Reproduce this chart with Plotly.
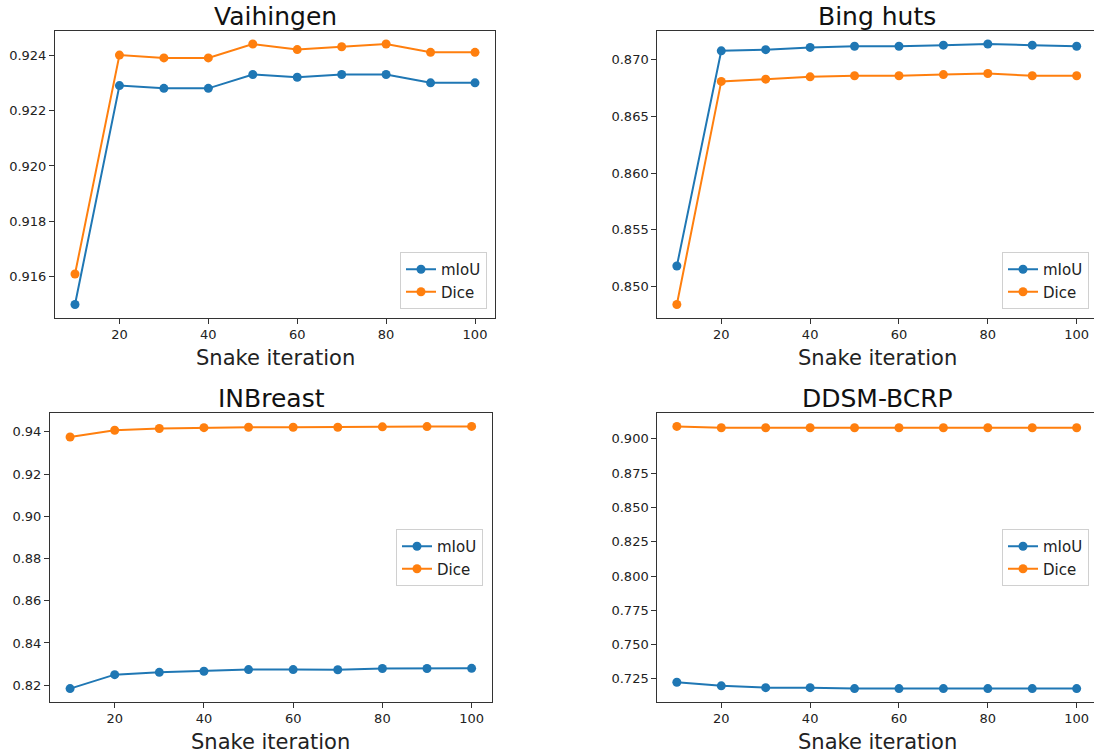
import plotly.graph_objects as go

iterations = [10, 20, 30, 40, 50, 60, 70, 80, 90, 100]
x_tick_vals = [20, 40, 60, 80, 100]
series_names = ["mIoU", "Dice"]

vaihingen_miou = [0.9150, 0.9229, 0.9228, 0.9228, 0.9233, 0.9232, 0.9233, 0.9233, 0.9230, 0.9230]
vaihingen_dice = [0.9161, 0.9240, 0.9239, 0.9239, 0.9244, 0.9242, 0.9243, 0.9244, 0.9241, 0.9241]

bing_miou = [0.8518, 0.8708, 0.8709, 0.8711, 0.8712, 0.8712, 0.8713, 0.8714, 0.8713, 0.8712]
bing_dice = [0.8484, 0.8681, 0.8683, 0.8685, 0.8686, 0.8686, 0.8687, 0.8688, 0.8686, 0.8686]

inbreast_miou = [0.8184, 0.8250, 0.8261, 0.8266, 0.8274, 0.8274, 0.8273, 0.8279, 0.8279, 0.8280]
inbreast_dice = [0.9376, 0.9408, 0.9416, 0.9420, 0.9422, 0.9422, 0.9422, 0.9424, 0.9425, 0.9426]

ddsm_miou = [0.7225, 0.7199, 0.7186, 0.7186, 0.7179, 0.7179, 0.7179, 0.7179, 0.7179, 0.7179]
ddsm_dice = [0.9091, 0.9081, 0.9081, 0.9081, 0.9081, 0.9081, 0.9081, 0.9081, 0.9081, 0.9081]

titles = ["Vaihingen", "Bing huts", "INBreast", "DDSM-BCRP"]
panels = [
    (vaihingen_miou, vaihingen_dice),
    (bing_miou, bing_dice),
    (inbreast_miou, inbreast_dice),
    (ddsm_miou, ddsm_dice),
]

W, H = 1094, 753
FONT = "DejaVu Sans"
BLUE = "#1f77b4"
ORANGE = "#ff7f0e"
SPINE = "#333333"

# axes boxes in pixels: left, right, top, bottom
boxes = [
    (55, 495, 31, 317.5),
    (657.3, 1094, 31, 317.5),
    (50, 491.7, 413.3, 701.7),
    (657.3, 1094, 413.3, 701.7),
]
x_ranges = [[5.5, 104.5], [5.6, 103.9], [5.5, 104.5], [5.6, 103.9]]
y_dticks = [0.002, 0.005, 0.02, 0.025]
y_formats = [".3f", ".3f", ".2f", ".3f"]
title_centers = [275, 877, 271, 877]
legend_pos = [
    (487, 309, "bottom"),
    (1089, 309, "bottom"),
    (483, 557.5, "middle"),
    (1089, 557.5, "middle"),
]

fig = go.Figure()
annotations = []
layout = {}

for i, ((miou, dice), title) in enumerate(zip(panels, titles)):
    n = i + 1
    xa = "x" if n == 1 else f"x{n}"
    ya = "y" if n == 1 else f"y{n}"
    lg = "legend" if n == 1 else f"legend{n}"
    for name, vals, color in zip(series_names, (miou, dice), (BLUE, ORANGE)):
        fig.add_trace(go.Scatter(
            x=iterations, y=vals, name=name, mode="lines+markers",
            line=dict(color=color, width=2),
            marker=dict(color=color, size=9),
            xaxis=xa, yaxis=ya, legend=lg,
        ))
    l, r, t, b = boxes[i]
    lo = min(min(miou), min(dice))
    hi = max(max(miou), max(dice))
    span = hi - lo
    axis_common = dict(
        showline=True, linecolor=SPINE, linewidth=1, mirror=True,
        ticks="outside", ticklen=5, tickwidth=1, tickcolor=SPINE,
        showgrid=False, zeroline=False,
        tickfont=dict(family=FONT, size=13, color="#222222"),
    )
    layout["xaxis" if n == 1 else f"xaxis{n}"] = dict(
        domain=[l / W, r / W], range=x_ranges[i], anchor=ya,
        tickmode="array", tickvals=x_tick_vals, **axis_common,
    )
    layout["yaxis" if n == 1 else f"yaxis{n}"] = dict(
        domain=[1 - b / H, 1 - t / H], range=[lo - 0.05 * span, hi + 0.05 * span],
        anchor=xa, dtick=y_dticks[i], tickformat=y_formats[i], **axis_common,
    )
    lx, ly, anc = legend_pos[i]
    layout[lg] = dict(
        x=lx / W, y=1 - ly / H, xanchor="right", yanchor=anc,
        bgcolor="rgba(255,255,255,0.85)", bordercolor="#d0d0d0", borderwidth=1,
        font=dict(family=FONT, size=15, color="#222222"),
    )
    annotations.append(dict(
        text=title, x=title_centers[i] / W, y=1 - (t - 6) / H,
        xref="paper", yref="paper", xanchor="center", yanchor="bottom",
        showarrow=False, font=dict(family=FONT, size=25, color="#111111"),
        yshift=-8,
    ))
    annotations.append(dict(
        text="Snake iteration", x=((l + r) / 2 if n in (1, 3) else title_centers[i]) / W,
        y=1 - (b + 40) / H,
        xref="paper", yref="paper", xanchor="center", yanchor="middle",
        showarrow=False, font=dict(family=FONT, size=21, color="#222222"),
    ))

fig.update_layout(
    width=W, height=H, margin=dict(l=0, r=0, t=0, b=0),
    paper_bgcolor="white", plot_bgcolor="white",
    annotations=annotations, showlegend=True,
    **layout,
)

fig.write_html("out.html")
